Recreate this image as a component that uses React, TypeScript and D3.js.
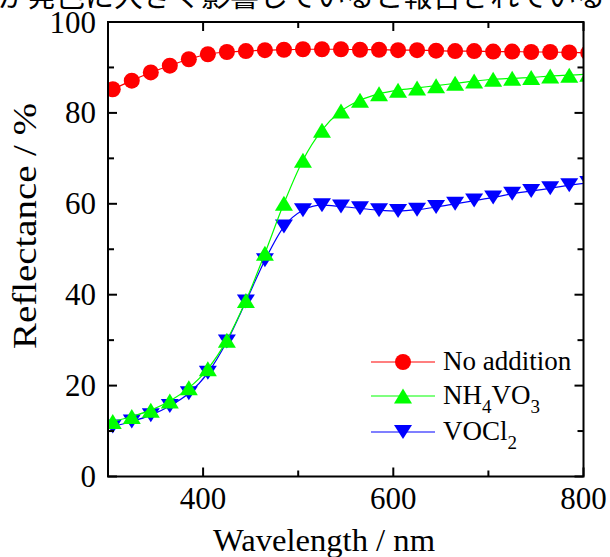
import React from "react";
import * as d3 from "d3";

const wavelengths = [305, 325, 345, 365, 385, 405, 425, 445, 465, 485, 505, 525, 545, 565, 585, 605, 625, 645, 665, 685, 705, 725, 745, 765, 785, 805];
const noAddition = [85.2, 87.1, 88.9, 90.4, 91.8, 92.9, 93.4, 93.6, 93.8, 93.9, 94.0, 94.0, 94.0, 93.9, 93.9, 93.8, 93.8, 93.7, 93.6, 93.6, 93.5, 93.5, 93.4, 93.4, 93.3, 93.2];
const nh4vo3 = [12.1, 13.2, 14.6, 16.6, 19.5, 23.7, 30.0, 38.7, 49.1, 60.1, 69.6, 76.2, 80.4, 82.8, 84.2, 85.0, 85.5, 86.0, 86.5, 87.0, 87.4, 87.6, 87.8, 88.1, 88.3, 88.5];
const vocl2 = [11.0, 12.1, 13.5, 15.5, 18.3, 22.8, 29.7, 38.5, 47.6, 55.0, 58.6, 59.7, 59.4, 59.0, 58.6, 58.4, 58.7, 59.3, 60.0, 60.7, 61.4, 62.2, 62.8, 63.4, 64.1, 64.6];

const xMajorTicks = [400, 600, 800];
const xMinorTicks = [500, 700];
const yMajorTicks = [0, 20, 40, 60, 80, 100];
const yMinorTicks = [10, 30, 50, 70, 90];

const headerText = "が発色に大きく影響していると報告されている";
const xTitle = "Wavelength / nm";
const yTitle = "Reflectance / %";

const W = 610;
const H = 557;
const L = 108, R = 583.5, T = 22, B = 476.5;
const FONT = "'Liberation Serif', 'Times New Roman', serif";

const triUp = (w: number, h: number) => `M0,${-h / 2}L${w / 2},${h / 2}L${-w / 2},${h / 2}Z`;
const triDown = (w: number, h: number) => `M0,${h / 2}L${w / 2},${-h / 2}L${-w / 2},${-h / 2}Z`;

export default function App() {
  const x = d3.scaleLinear().domain([300, 800]).range([L, R]);
  const y = d3.scaleLinear().domain([0, 100]).range([B, T]);

  const series = [
    { name: "No addition", values: noAddition, color: "#ff0000", marker: "circle" },
    { name: "VOCl2", values: vocl2, color: "#0000ff", marker: "down" },
    { name: "NH4VO3", values: nh4vo3, color: "#00ff00", marker: "up" },
  ];

  const lineGen = (vals: number[]) =>
    d3
      .line<number>()
      .x((_, i) => x(wavelengths[i]))
      .y((d) => y(d))
      .curve(d3.curveMonotoneX)(vals) || "";

  const marker = (type: string, color: string, key: string | number, tx: number, ty: number) => {
    if (type === "circle") return <circle key={key} cx={tx} cy={ty} r={8} fill={color} />;
    if (type === "up") return <path key={key} d={triUp(18, 15)} transform={`translate(${tx},${ty})`} fill={color} />;
    return <path key={key} d={triDown(18, 14)} transform={`translate(${tx},${ty})`} fill={color} />;
  };

  const legendRows = [
    { color: "#ff0000", marker: "circle", y: 362, label: [{ t: "No addition", sub: false }] },
    { color: "#00ff00", marker: "up", y: 396, label: [{ t: "NH", sub: false }, { t: "4", sub: true }, { t: "VO", sub: false }, { t: "3", sub: true }] },
    { color: "#0000ff", marker: "down", y: 432, label: [{ t: "VOCl", sub: false }, { t: "2", sub: true }] },
  ];

  return (
    <svg width={W} height={H} style={{ position: "absolute", left: 0, top: 0, background: "#fff" }}>
      <rect x={0} y={0} width={W} height={H} fill="#fff" />
      <text x={-2} y={7} fontSize={29} fontFamily="'Noto Sans CJK JP', sans-serif" fill="#000">
        {headerText}
      </text>
      <defs>
        <clipPath id="plotClip">
          <rect x={L} y={T - 10} width={R - L} height={B - T + 10} />
        </clipPath>
      </defs>
      <g clipPath="url(#plotClip)">
        {series.map((s) => (
          <g key={s.name}>
            <path d={lineGen(s.values)} fill="none" stroke={s.color} strokeWidth={1.2} />
            {s.values.map((v, i) => marker(s.marker, s.color, i, x(wavelengths[i]), y(v)))}
          </g>
        ))}
      </g>
      <rect x={L} y={T} width={R - L} height={B - T} fill="none" stroke="#000" strokeWidth={2} />
      {xMajorTicks.map((t) => (
        <g key={"xM" + t}>
          <line x1={x(t)} x2={x(t)} y1={B} y2={B - 9} stroke="#000" strokeWidth={2} />
          <line x1={x(t)} x2={x(t)} y1={T} y2={T + 9} stroke="#000" strokeWidth={2} />
          <text x={x(t)} y={509} textAnchor="middle" fontSize={31} fontFamily={FONT}>{t}</text>
        </g>
      ))}
      {xMinorTicks.map((t) => (
        <g key={"xm" + t}>
          <line x1={x(t)} x2={x(t)} y1={B} y2={B - 6} stroke="#000" strokeWidth={2} />
          <line x1={x(t)} x2={x(t)} y1={T} y2={T + 6} stroke="#000" strokeWidth={2} />
        </g>
      ))}
      {yMajorTicks.map((t) => (
        <g key={"yM" + t}>
          <line x1={L} x2={L + 9} y1={y(t)} y2={y(t)} stroke="#000" strokeWidth={2} />
          <line x1={R} x2={R - 9} y1={y(t)} y2={y(t)} stroke="#000" strokeWidth={2} />
          <text x={96} y={y(t) + 10.5} textAnchor="end" fontSize={31} fontFamily={FONT}>{t}</text>
        </g>
      ))}
      {yMinorTicks.map((t) => (
        <g key={"ym" + t}>
          <line x1={L} x2={L + 6} y1={y(t)} y2={y(t)} stroke="#000" strokeWidth={2} />
          <line x1={R} x2={R - 6} y1={y(t)} y2={y(t)} stroke="#000" strokeWidth={2} />
        </g>
      ))}
      <text x={324} y={551} textAnchor="middle" fontSize={32} fontFamily={FONT} textLength={222} lengthAdjust="spacingAndGlyphs">{xTitle}</text>
      <text transform={`translate(36,226) rotate(-90)`} textAnchor="middle" fontSize={33} fontFamily={FONT} textLength={246} lengthAdjust="spacingAndGlyphs">{yTitle}</text>
      {legendRows.map((r, i) => (
        <g key={"lg" + i}>
          <line x1={371} x2={435} y1={r.y} y2={r.y} stroke={r.color} strokeWidth={1.2} />
          {marker(r.marker, r.color, "m" + i, 403, r.y)}
          <text x={443} y={r.y + 8} fontSize={27} fontFamily={FONT}>
            {r.label.map((p, j) => (
              <tspan key={j} fontSize={p.sub ? 19 : 27} dy={p.sub ? 9 : j > 0 ? -9 : 0}>{p.t}</tspan>
            ))}
          </text>
        </g>
      ))}
    </svg>
  );
}
